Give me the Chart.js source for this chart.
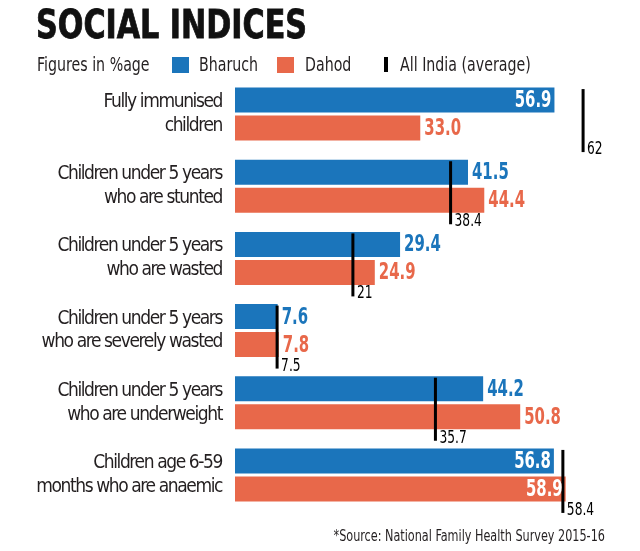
<!DOCTYPE html>
<html lang="en">
<head>
<meta charset="UTF-8">
<title>Social indices</title>
<script src="https://cdn.jsdelivr.net/npm/chart.js"></script>
<style>
    body { margin: 0; background: #fff; }
    .wrap {
        position: relative;
        width: 640px;
        height: 551px;
        font-family: "DejaVu Sans Condensed", "Liberation Sans", sans-serif;
        color: #231f20;
    }
    #chartBox { position: absolute; left: 0; top: 0; width: 640px; height: 551px; }
    .title {
        position: absolute; left: 36px; top: 5px;
        font-size: 39px; line-height: 39px; font-weight: bold; color: #111;
        -webkit-text-stroke: 0.8px #111;
        white-space: nowrap; transform: scaleX(0.86); transform-origin: left top;
    }
    .leg {
        position: absolute; top: 55px; font-size: 19.5px; line-height: 20px; white-space: nowrap;
        transform: scaleX(0.81); transform-origin: left top;
    }
    .sw { position: absolute; top: 57px; width: 17px; height: 16px; }
    .source {
        position: absolute; right: 35px; top: 528px;
        font-size: 16px; line-height: 16px; white-space: nowrap;
        transform: scaleX(0.78); transform-origin: right top;
    }
</style>
</head>
<body>
<div class="wrap">
    <div id="chartBox"><canvas id="chart"></canvas></div>
    <div class="title">SOCIAL INDICES</div>
    <span class="leg" style="left:37px">Figures in %age</span>
    <span class="sw" style="left:172px;background:#1b75bb"></span>
    <span class="leg" style="left:199px">Bharuch</span>
    <span class="sw" style="left:277px;background:#e8684a"></span>
    <span class="leg" style="left:305px">Dahod</span>
    <span class="sw" style="left:384px;width:4px;height:15px;background:#000"></span>
    <span class="leg" style="left:400px">All India (average)</span>
    <div class="source">*Source: National Family Health Survey 2015-16</div>
</div>
<script>
    // categorias (dos lineas cada una)
    const categories = [
        ['Fully immunised', 'children'],
        ['Children under 5 years', 'who are stunted'],
        ['Children under 5 years', 'who are wasted'],
        ['Children under 5 years', 'who are severely wasted'],
        ['Children under 5 years', 'who are underweight'],
        ['Children age 6-59', 'months who are anaemic']
    ];
    const bharuch = [56.9, 41.5, 29.4, 7.6, 44.2, 56.8];
    const dahod = [33.0, 44.4, 24.9, 7.8, 50.8, 58.9];
    const allIndia = [62, 38.4, 21, 7.5, 35.7, 58.4];

    const BLUE = '#1b75bb';
    const ORANGE = '#e8684a';
    const FONT = '"DejaVu Sans Condensed", "Liberation Sans", sans-serif';

    // texto angosto: escala horizontal
    function narrowText(ctx, text, x, y, sx) {
        ctx.save();
        ctx.translate(x, y);
        ctx.scale(sx, 1);
        ctx.fillText(text, 0, 0);
        ctx.restore();
    }

    const spacingPlugin = {
        id: 'spacing',
        beforeDraw(chart) { chart.ctx.letterSpacing = '-1.4px'; },
        beforeDatasetsDraw(chart) { chart.ctx.letterSpacing = '0px'; }
    };

    // etiquetas de valores y marcas del promedio nacional
    const labelPlugin = {
        id: 'valueLabels',
        afterDatasetsDraw(chart) {
            const ctx = chart.ctx;
            ctx.save();
            // marcas All India
            const m = chart.getDatasetMeta(2);
            m.data.forEach((pt, i) => {
                ctx.fillStyle = '#000';
                ctx.fillRect(pt.x - 1.5, pt.y - 25, 3, 63);
                ctx.font = '17px ' + FONT;
                ctx.textAlign = 'left';
                ctx.textBaseline = 'alphabetic';
                narrowText(ctx, String(allIndia[i]), pt.x + 4, pt.y + 40, 0.8);
            });
            [0, 1].forEach(di => {
                const meta = chart.getDatasetMeta(di);
                const color = chart.data.datasets[di].backgroundColor;
                meta.data.forEach((bar, i) => {
                    const v = chart.data.datasets[di].data[i];
                    ctx.font = 'bold 23px ' + FONT;
                    ctx.textBaseline = 'middle';
                    if (v > 55) {
                        ctx.fillStyle = '#fff';
                        ctx.textAlign = 'right';
                        narrowText(ctx, v.toFixed(1), bar.x - 3, bar.y + 1, 0.72);
                    } else {
                        ctx.fillStyle = color;
                        ctx.textAlign = 'left';
                        narrowText(ctx, v.toFixed(1), bar.x + 4, bar.y + 1, 0.72);
                    }
                });
            });
            ctx.restore();
        }
    };

    const ctx = document.getElementById('chart').getContext('2d');
    new Chart(ctx, {
        type: 'bar',
        data: {
            labels: categories,
            datasets: [
                { label: 'Bharuch', data: bharuch, backgroundColor: BLUE,
                  categoryPercentage: 0.776, barPercentage: 0.893 },
                { label: 'Dahod', data: dahod, backgroundColor: ORANGE,
                  categoryPercentage: 0.776, barPercentage: 0.893 },
                { type: 'line', label: 'All India (average)', data: allIndia, indexAxis: 'y',
                  showLine: false, pointRadius: 0, borderColor: '#000' }
            ]
        },
        options: {
            indexAxis: 'y',
            responsive: true,
            maintainAspectRatio: false,
            animation: false,
            events: [],
            layout: { padding: { top: 78, bottom: 40, right: 12, left: 0 } },
            plugins: { legend: { display: false }, tooltip: { enabled: false } },
            scales: {
                x: { display: false, min: 0, max: 70 },
                y: {
                    grid: { display: false, drawTicks: false },
                    border: { display: false },
                    afterFit: s => { s.width = 235; },
                    ticks: {
                        padding: 13,
                        color: '#231f20',
                        font: { family: FONT, size: 19, lineHeight: 1.26 }
                    }
                }
            }
        },
        plugins: [spacingPlugin, labelPlugin]
    });
</script>
</body>
</html>
